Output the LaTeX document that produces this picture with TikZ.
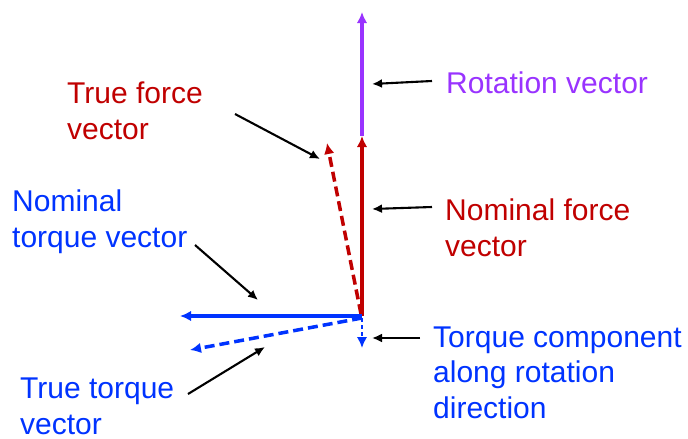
\documentclass[tikz,border=0pt]{standalone}
\usepackage{fontspec}
\setmainfont{Liberation Sans}
\usetikzlibrary{arrows.meta}
\definecolor{rotpurple}{RGB}{153,51,255}
\definecolor{forcered}{RGB}{192,0,0}
\definecolor{torqueblue}{RGB}{0,51,255}

\begin{document}
\begin{tikzpicture}[x=1pt, y=-1pt,
  vec/.style={line width=3.5pt, -{Latex[length=11pt,width=10.5pt]}},
  pointer/.style={black, line width=2.1pt, -{Latex[length=10pt,width=9pt]}},
  lbl/.style={anchor=base west, inner sep=0pt, align=left,
    font=\fontsize{30}{35.5}\selectfont}]
  \useasboundingbox (0,0) rectangle (688,439);
  % vectors
  \coordinate (O)    at (362,316);
  \coordinate (Ob)   at (362,318);
  \coordinate (Ft)   at (361,314);
  \coordinate (rot)  at (362,12);
  \coordinate (nf)   at (362,136);
  \coordinate (tf)   at (327,143);
  \coordinate (nt)   at (180,316);
  \coordinate (tt)   at (190,350);
  \coordinate (tc)   at (362,348);
  \draw[vec, rotpurple] (nf) -- (rot);
  \draw[vec, forcered] (O) -- (nf);
  \draw[vec, forcered, dash pattern=on 10pt off 5pt] (Ft) -- (tf);
  \draw[vec, torqueblue] (O) -- (nt);
  \draw[vec, torqueblue, dash pattern=on 10pt off 5pt] (Ob) -- (tt);
  \draw[vec, torqueblue, line width=2.6pt, dash pattern=on 4pt off 3pt] (Ob) -- (tc);
  % labels (anchored at the baseline of the last line)
  \node[lbl, text=rotpurple]  (rotlbl) at (446,93)  {Rotation vector};
  \node[lbl, text=forcered]   (nflbl)  at (445,256) {Nominal force\\vector};
  \node[lbl, text=torqueblue] (tclbl)  at (433,418) {Torque component\\along rotation\\direction};
  \node[lbl, text=forcered]   (tflbl)  at (67,139)  {True force\\vector};
  \node[lbl, text=torqueblue] (ntlbl)  at (12,247)  {Nominal\\torque vector};
  \node[lbl, text=torqueblue] (ttlbl)  at (20,434)  {True torque\\vector};
  % pointers
  \coordinate (rotp) at (432,81);
  \coordinate (nfp)  at (432,207);
  \coordinate (tcp)  at (420,338);
  \coordinate (tfp)  at (235,114);
  \coordinate (ntp)  at (195,245);
  \coordinate (ttp)  at (188,394);
  \draw[pointer] (rotp) -- (372,84);
  \draw[pointer] (nfp)  -- (372,209);
  \draw[pointer] (tcp)  -- (372,338);
  \draw[pointer] (tfp)  -- (320,159);
  \draw[pointer] (ntp)  -- (258,300);
  \draw[pointer] (ttp)  -- (265,347);
\end{tikzpicture}
\end{document}
